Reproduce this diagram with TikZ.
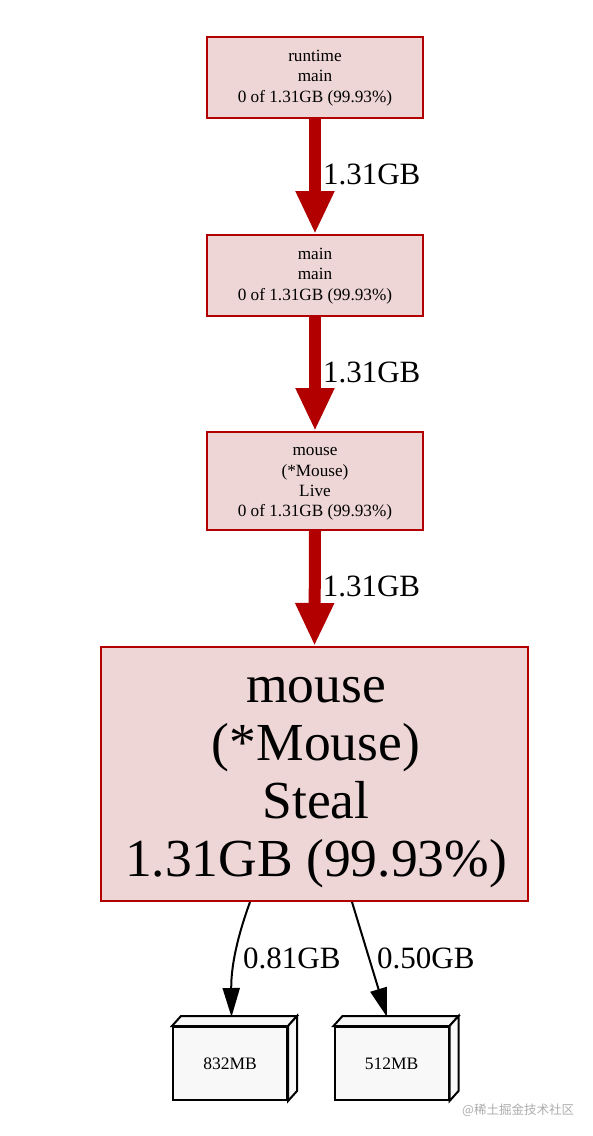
\documentclass[tikz,border=0pt]{standalone}
\usepackage{fontspec}
\setmainfont{Liberation Serif}
\newfontfamily\cjk{Noto Sans CJK SC}
\usetikzlibrary{arrows.meta}
\definecolor{pred}{HTML}{B20000}
\definecolor{pfill}{HTML}{EDD6D5}
\definecolor{lfill}{HTML}{F8F8F8}
\tikzset{
  fnbox/.style={draw=pred, fill=pfill, line width=2pt, rectangle, inner sep=0pt},
  fntext/.style={inner sep=0pt, align=center},
  smalltext/.style={font=\fontsize{17.2}{20.4}\selectfont},
  bigtext/.style={font=\fontsize{53.5}{58}\selectfont},
  leafbox/.style={draw=black, fill=lfill, line width=2pt, rectangle, inner sep=0pt, minimum width=114pt, minimum height=73pt, font=\fontsize{17.5}{20}\selectfont},
  bigarrow/.style={draw=pred, line width=12pt, -{Triangle[length=43pt,width=36pt]}},
  thinarrow/.style={draw=black, line width=2pt, -{Triangle[length=29pt,width=17pt]}},
  elabel/.style={font=\fontsize{31}{34}\selectfont, inner sep=0pt, anchor=west}
}
\begin{document}
\begin{tikzpicture}[x=1pt,y=-1pt]
\useasboundingbox (0,0) rectangle (593,1136);
\fill[white] (0,0) rectangle (593,1136);

\node[fnbox, minimum width=216pt, minimum height=81pt] (b1) at (315,77.5) {};
\node[fntext, smalltext] (b1t) at (315,78) {runtime\\main\\0 of 1.31GB (99.93\%)};
\node[fnbox, minimum width=216pt, minimum height=81pt] (b2) at (315,275.5) {};
\node[fntext, smalltext] (b2t) at (315,276) {main\\main\\0 of 1.31GB (99.93\%)};
\node[fnbox, minimum width=216pt, minimum height=98pt] (b3) at (315,481) {};
\node[fntext, smalltext] (b3t) at (315,484) {mouse\\(*Mouse)\\Live\\0 of 1.31GB (99.93\%)};
\node[fnbox, minimum width=427pt, minimum height=254pt] (b4) at (314.5,774) {};
\node[fntext, bigtext] (b4t) at (316,783) {mouse\\(*Mouse)\\Steal\\1.31GB (99.93\%)};

\node[leafbox] (l1) at (230,1063.5) {832MB};
\node[leafbox] (l2) at (391.5,1063.5) {512MB};
\foreach \n in {l1,l2}{
  \draw[line width=2pt, fill=lfill, line join=miter] (\n.north west) -- ++(9,-10) -- ([shift={(9,-10)}]\n.north east) -- (\n.north east) -- cycle;
  \draw[line width=2pt, fill=lfill, line join=miter] (\n.north east) -- ++(9,-10) -- ([shift={(9,-10)}]\n.south east) -- (\n.south east) -- cycle;
}

\draw[bigarrow] (b1.south) -- (b2.north) node[midway, elabel, xshift=2pt, yshift=2pt] {1.31GB};
\draw[bigarrow] (b2.south) -- (b3.north) node[midway, elabel, xshift=2pt, yshift=2pt] {1.31GB};
\draw[bigarrow] (b3.south) -- (b4.north) node[midway, elabel, xshift=2pt, yshift=2pt] {1.31GB};

\coordinate (t1) at ([shift={(1.5,-9)}]l1.north);
\coordinate (t2) at ([shift={(-4.5,-9)}]l2.north);
\draw[thinarrow] ([xshift=-64.5pt]b4.south) .. controls (238,935) and (231,965) .. (t1);
\draw[thinarrow] ([xshift=37.5pt]b4.south) -- (t2);
\node[elabel] (e1) at (243,958) {0.81GB};
\node[elabel] (e2) at (377,958) {0.50GB};

\node[font=\cjk\fontsize{12.5}{14}\selectfont, text=black!32, anchor=west, inner sep=0pt] (wm) at (462,1110) {@稀土掘金技术社区};
\end{tikzpicture}
\end{document}
